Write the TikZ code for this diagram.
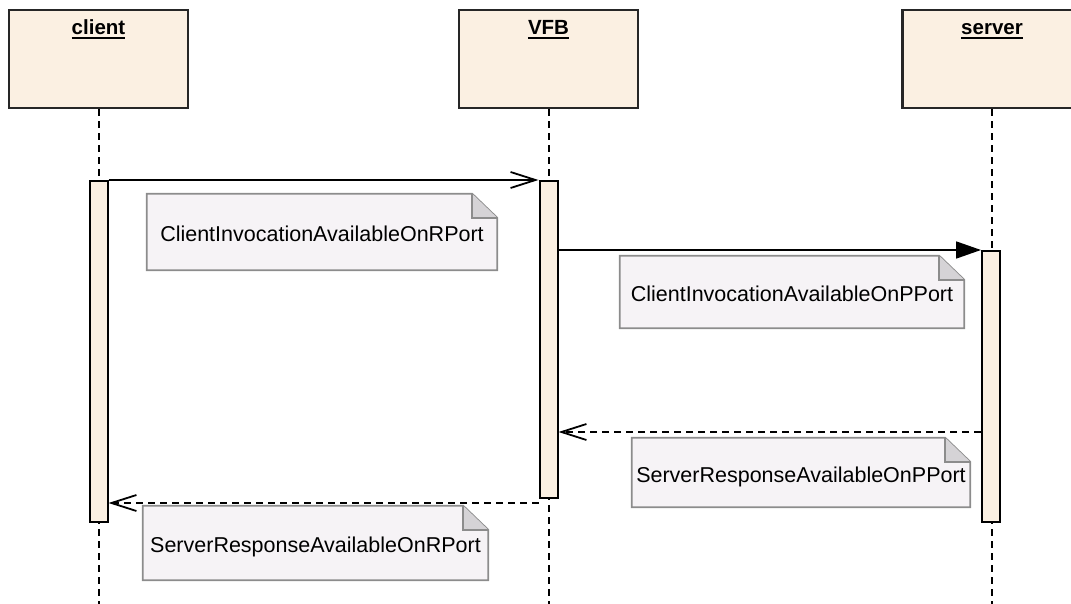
\documentclass[tikz,border=0pt]{standalone}
\usepackage{fontspec}
\setmainfont{Liberation Sans}
\usetikzlibrary{arrows.meta,positioning,calc}
\pgfdeclarelayer{background}
\pgfsetlayers{background,main}

\definecolor{boxfill}{RGB}{251,240,226}
\definecolor{notefill}{RGB}{246,243,246}
\definecolor{notegrey}{RGB}{140,140,140}
\definecolor{foldfill}{RGB}{213,211,214}

\tikzset{
  partbox/.style={draw=black!85, fill=boxfill, line width=2.2pt,
    minimum width=179pt, minimum height=98pt, inner sep=0pt},
  partname/.style={font=\fontsize{20.5}{24}\selectfont\bfseries,
    inner sep=0pt, anchor=base},
  lifeline/.style={line width=2pt, dash pattern=on 7pt off 5pt},
  actbar/.style={draw=black, fill=boxfill, line width=2pt,
    minimum width=18pt, inner sep=0pt},
  call/.style={line width=1.8pt, -{Straight Barb[length=25pt,width=16pt]}},
  sync/.style={line width=1.8pt, -{Triangle[length=25pt,width=17pt]}},
  reply/.style={call, dash pattern=on 7pt off 5pt},
  note/.style={font=\fontsize{21.5}{25}\selectfont, inner sep=0pt,
    text height=19pt, text depth=0pt},
  noteedge/.style={draw=notegrey, line width=1.8pt, line join=miter},
}

\begin{document}
\begin{tikzpicture}[x=1pt,y=-1pt]
  \useasboundingbox (0,0) rectangle (1071,604);
  \clip (0,0) rectangle (1071,604);
  \coordinate (bottom) at (0,610);

  % participants with their lifelines
  \foreach \p/\x/\t in {client/98.5/client, vfb/548.5/VFB, server/992/server} {
    \node[partbox] (\p) at (\x,59) {};
    \node[partname] (\p name) at ($(\p.north)+(0,-26pt)$) {\t};
    \draw[line width=2.2pt] ($(\p name.base west)+(0,-3.5pt)$) -- ($(\p name.base east)+(0,-3.5pt)$);
    \draw[lifeline] (\p.south) -- (\p.south |- bottom);
  }

  % activation bars
  \node[actbar, minimum height=341pt] (clientbar) at (98.5,351.5) {};
  \node[actbar, minimum height=317pt] (vfbbar) at (548.5,339.5) {};
  \node[actbar, minimum height=271pt] (serverbar) at (991,386.5) {};

  % messages
  \coordinate (ret1) at (0,432);
  \coordinate (ret2) at (0,503);
  \draw[call] (clientbar.north east) -- (vfbbar.north west);
  \draw[sync] (vfbbar.east |- serverbar.north) -- (serverbar.north west);
  \draw[reply] (serverbar.west |- ret1) -- (vfbbar.east |- ret1);
  \draw[reply] (vfbbar.west |- ret2) -- (clientbar.east |- ret2);

  % notes
  \node[note, minimum width=350pt, minimum height=76pt] (n1) at (322,232) {ClientInvocationAvailableOnRPort};
  \node[note, minimum width=344pt, minimum height=72pt] (n2) at (792,292) {ClientInvocationAvailableOnPPort};
  \node[note, minimum width=338pt, minimum height=69pt] (n3) at (801,472.5) {ServerResponseAvailableOnPPort};
  \node[note, minimum width=345pt, minimum height=74pt] (n4) at (315.5,543) {ServerResponseAvailableOnRPort};

  \begin{pgfonlayer}{background}
    \foreach \n in {n1,n2,n3,n4} {
      \filldraw[noteedge, fill=notefill] (\n.south west) -- (\n.north west)
        -- ($(\n.north east)+(-25pt,0)$) -- ($(\n.north east)+(0,-24pt)$)
        -- (\n.south east) -- cycle;
      \filldraw[noteedge, fill=foldfill] ($(\n.north east)+(-25pt,0)$)
        -- ($(\n.north east)+(-25pt,-24pt)$) -- ($(\n.north east)+(0,-24pt)$);
    }
  \end{pgfonlayer}
\end{tikzpicture}
\end{document}
